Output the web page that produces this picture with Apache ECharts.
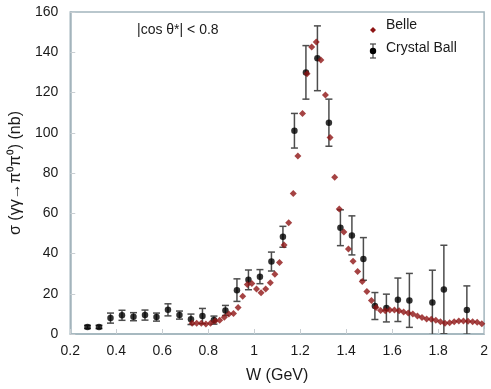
<!DOCTYPE html>
<html>
<head>
<meta charset="utf-8">
<script src="https://cdn.jsdelivr.net/npm/echarts@6/dist/echarts.min.js"></script>
<style>
  html, body { margin: 0; padding: 0; background: #fff; }
  #chart { width: 491px; height: 389px; }
</style>
</head>
<body>
<div id="chart"></div>
<script>
// Belle points, 20 MeV bins
var belleW = [0.73, 0.75, 0.77, 0.79, 0.81, 0.83, 0.85, 0.87, 0.89, 0.91,
  0.93, 0.95, 0.97, 0.99, 1.01, 1.03, 1.05, 1.07, 1.09, 1.11,
  1.13, 1.15, 1.17, 1.19, 1.21, 1.23, 1.25, 1.27, 1.29, 1.31,
  1.33, 1.35, 1.37, 1.39, 1.41, 1.43, 1.45, 1.47, 1.49, 1.51,
  1.53, 1.55, 1.57, 1.59, 1.61, 1.63, 1.65, 1.67, 1.69, 1.71,
  1.73, 1.75, 1.77, 1.79, 1.81, 1.83, 1.85, 1.87, 1.89, 1.91,
  1.93, 1.95, 1.97, 1.99];
var belleSigma = [5.3, 5.3, 5.3, 5.0, 5.4, 6.4, 6.8, 8.3, 9.9, 10.2,
  13.2, 18.8, 24.6, 25.1, 22.3, 20.5, 22.3, 25.5, 29.7, 35.5,
  44.2, 55.3, 69.8, 88.4, 109.6, 129.3, 142.6, 145.1, 136.1, 118.7,
  97.6, 77.9, 62.1, 50.7, 42.2, 36.2, 31.0, 26.1, 21.1, 16.7,
  13.2, 11.7, 11.6, 11.9, 11.9, 11.6, 10.9, 10.4, 9.9, 8.9,
  8.2, 7.4, 7.3, 6.8, 6.1, 5.4, 5.6, 6.1, 6.4, 6.4,
  6.3, 6.1, 5.8, 5.1];

// Crystal Ball points with errors
var cbW = [0.275, 0.325, 0.375, 0.425, 0.475, 0.525, 0.575, 0.625, 0.675, 0.725,
  0.775, 0.825, 0.875, 0.925, 0.975, 1.025, 1.075, 1.125, 1.175, 1.225,
  1.275, 1.325, 1.375, 1.425, 1.475, 1.525, 1.575, 1.625, 1.675, 1.775,
  1.825, 1.925];
var cbSigma = [3.5, 3.5, 7.9, 9.3, 8.6, 9.4, 8.4, 12.0, 9.4, 7.3,
  8.9, 6.9, 11.7, 21.8, 26.9, 28.5, 36.0, 48.3, 101, 130,
  137, 105, 52.8, 49.0, 37.3, 13.9, 12.9, 17.0, 16.7, 15.7,
  22.1, 11.9];
var cbErr = [0.8, 0.8, 2.5, 2.5, 2, 2.5, 2, 3, 2, 2.6,
  3.8, 2, 2.5, 5.6, 4.9, 3.5, 4.7, 5.2, 8.6, 13.3,
  16.1, 11.7, 8.9, 9.7, 10.6, 6.7, 6.9, 10.8, 13.4, 16,
  22, 12];

var xMin = 0.2, xMax = 2, xStep = 0.2;
var yMin = 0, yMax = 160, yStep = 20;

var frameColor = '#a3b5bd';
var textColor = '#1a1a1a';
var font = 'Liberation Sans, Arial, sans-serif';

var belleData = belleW.map(function (w, i) { return [w, belleSigma[i]]; });
var cbData = cbW.map(function (w, i) { return [w, cbSigma[i]]; });
var cbBars = cbW.map(function (w, i) {
  return [w, cbSigma[i] - cbErr[i], cbSigma[i] + cbErr[i]];
});

var chart = echarts.init(document.getElementById('chart'));

chart.setOption({
  animation: false,
  grid: {
    left: 62, right: 5, top: 12, bottom: 54,
    show: true, borderColor: frameColor, borderWidth: 1.5
  },
  xAxis: {
    type: 'value',
    min: xMin, max: xMax, interval: xStep,
    name: 'W (GeV)',
    nameLocation: 'middle',
    nameGap: 34,
    nameTextStyle: { fontSize: 16, color: textColor, fontFamily: font },
    axisLine: { show: true, lineStyle: { color: frameColor, width: 1.5 } },
    axisTick: { show: true, inside: true, length: 5, lineStyle: { color: '#c8ced2' } },
    axisLabel: {
      fontSize: 14, color: textColor, fontFamily: font, margin: 10,
      formatter: function (v) { return String(parseFloat(v.toFixed(1))); }
    },
    splitLine: { show: false }
  },
  yAxis: {
    type: 'value',
    min: yMin, max: yMax, interval: yStep,
    name: 'σ (γγ→π⁰π⁰) (nb)',
    nameLocation: 'middle',
    nameGap: 44,
    nameTextStyle: { fontSize: 16, color: textColor, fontFamily: font },
    axisLine: { show: true, lineStyle: { color: frameColor, width: 1.5 } },
    axisTick: { show: true, inside: true, length: 5, lineStyle: { color: '#c8ced2' } },
    axisLabel: { fontSize: 14, color: textColor, fontFamily: font, margin: 12 },
    splitLine: { show: false }
  },
  graphic: [
    {
      type: 'text', left: 137, top: 23,
      style: { text: '|cos θ*| < 0.8', fontSize: 14, fill: textColor, fontFamily: font }
    },
    // legend
    {
      type: 'polygon',
      shape: { points: [[373, 27], [376, 30], [373, 33], [370, 30]] },
      style: { fill: '#8e1414' }
    },
    {
      type: 'text', left: 386, top: 18,
      style: { text: 'Belle', fontSize: 14, fill: textColor, fontFamily: font }
    },
    {
      type: 'line', shape: { x1: 370, y1: 44, x2: 376, y2: 44 },
      style: { stroke: '#444', lineWidth: 1.2 }
    },
    {
      type: 'line', shape: { x1: 373, y1: 44, x2: 373, y2: 58 },
      style: { stroke: '#444', lineWidth: 1.2 }
    },
    {
      type: 'line', shape: { x1: 370, y1: 58, x2: 376, y2: 58 },
      style: { stroke: '#444', lineWidth: 1.2 }
    },
    {
      type: 'circle', shape: { cx: 373, cy: 51, r: 3.2 },
      style: { fill: '#000' }
    },
    {
      type: 'text', left: 386, top: 41,
      style: { text: 'Crystal Ball', fontSize: 14, fill: textColor, fontFamily: font }
    }
  ],
  series: [
    {
      name: 'Crystal Ball errors',
      type: 'custom',
      clip: true,
      data: cbBars,
      renderItem: function (params, api) {
        var x = api.value(0);
        var lo = api.coord([x, api.value(1)]);
        var hi = api.coord([x, api.value(2)]);
        var cap = 3.5;
        var st = { stroke: '#4d4d4d', lineWidth: 1.5 };
        return {
          type: 'group',
          children: [
            { type: 'line', shape: { x1: hi[0], y1: hi[1], x2: lo[0], y2: lo[1] }, style: st },
            { type: 'line', shape: { x1: hi[0] - cap, y1: hi[1], x2: hi[0] + cap, y2: hi[1] }, style: st },
            { type: 'line', shape: { x1: lo[0] - cap, y1: lo[1], x2: lo[0] + cap, y2: lo[1] }, style: st }
          ]
        };
      },
      z: 2
    },
    {
      name: 'Crystal Ball',
      type: 'scatter',
      data: cbData,
      symbol: 'circle',
      symbolSize: 6.5,
      itemStyle: { color: '#000' },
      z: 3
    },
    {
      name: 'Belle',
      type: 'scatter',
      data: belleData,
      symbol: 'diamond',
      symbolSize: 7,
      itemStyle: { color: '#8e1414' },
      z: 4
    }
  ]
});
</script>
</body>
</html>
